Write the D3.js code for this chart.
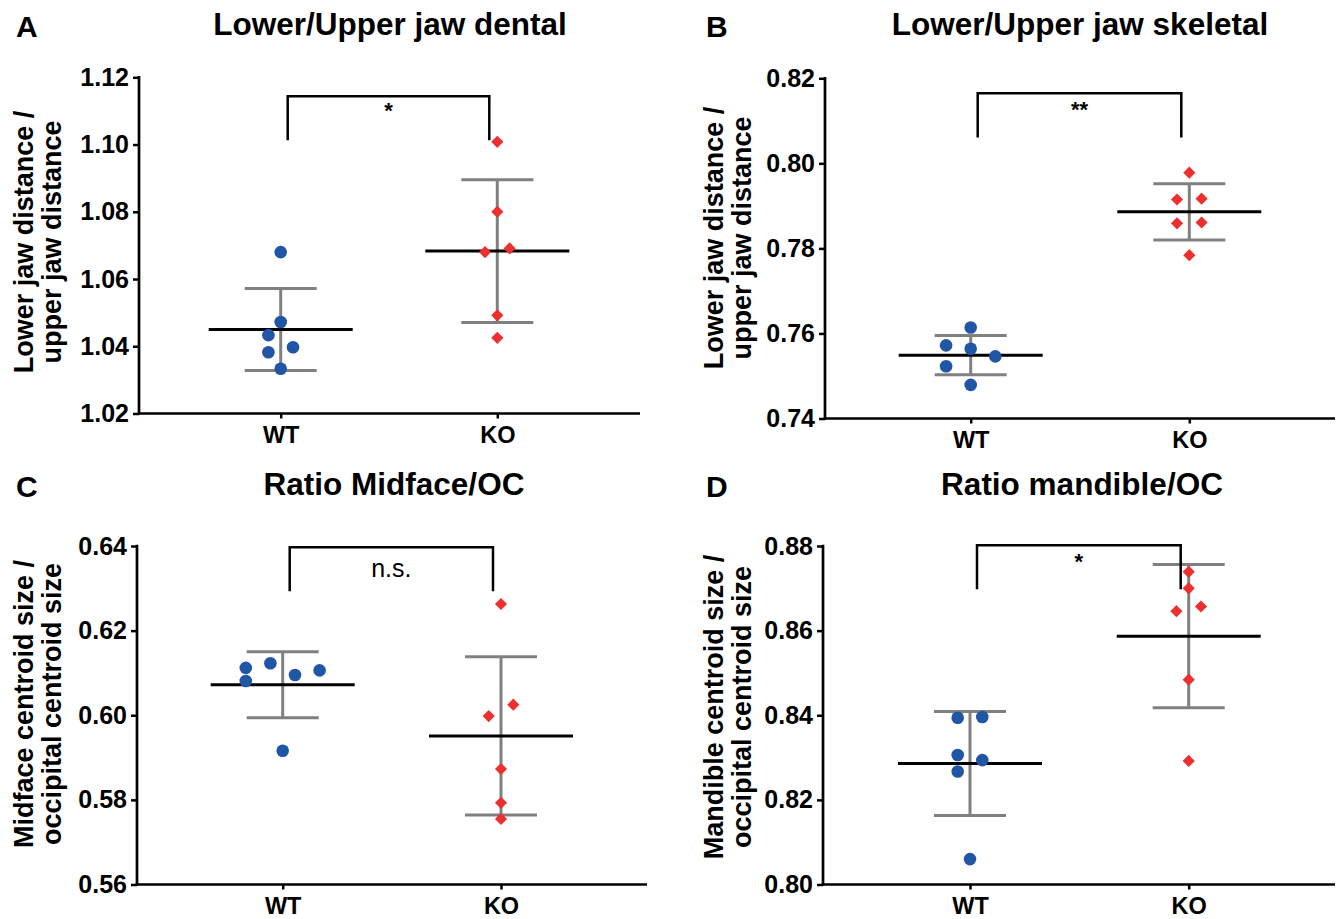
<!DOCTYPE html>
<html>
<head>
<meta charset="utf-8">
<script src="https://cdn.jsdelivr.net/npm/d3@7"></script>
<style>
  html, body { margin: 0; padding: 0; background: #fff; }
  svg { display: block; }
  text { font-family: "Liberation Sans", Arial, Helvetica, sans-serif; fill: #000; }
</style>
</head>
<body>
<svg id="chart" width="1340" height="919"></svg>
<script>
// ---------------- DATA ----------------
const groups = ["WT", "KO"];
const panelLetters = ["A", "B", "C", "D"];
const panelTitles = ["Lower/Upper jaw dental", "Lower/Upper jaw skeletal", "Ratio Midface/OC", "Ratio mandible/OC"];
const yLabelLines = [
  ["Lower jaw distance /", "upper jaw distance"],
  ["Lower jaw distance /", "upper jaw distance"],
  ["Midface centroid size /", "occipital centroid size"],
  ["Mandible centroid size /", "occipital centroid size"]
];
const yDomains = [[1.02, 1.12], [0.74, 0.82], [0.56, 0.64], [0.80, 0.88]];
const yTickValues = [
  [1.02, 1.04, 1.06, 1.08, 1.10, 1.12],
  [0.74, 0.76, 0.78, 0.80, 0.82],
  [0.56, 0.58, 0.60, 0.62, 0.64],
  [0.80, 0.82, 0.84, 0.86, 0.88]
];
// individual values per panel
const wtValues = [
  [1.0680, 1.0472, 1.0433, 1.0397, 1.0382, 1.0333],
  [0.7614, 0.7572, 0.7564, 0.7546, 0.7523, 0.7479],
  [0.6112, 0.6123, 0.6095, 0.6106, 0.6081, 0.5916],
  [0.8394, 0.8396, 0.8306, 0.8294, 0.8267, 0.8060]
];
const koValues = [
  [1.1008, 1.0800, 1.0691, 1.0680, 1.0492, 1.0425],
  [0.7978, 0.7915, 0.7917, 0.7859, 0.7861, 0.7784],
  [0.6263, 0.6025, 0.5998, 0.5873, 0.5793, 0.5755],
  [0.8739, 0.8700, 0.8657, 0.8646, 0.8484, 0.8292]
];
// scatter column slot of each point (dot-plot spreading)
const wtSlots = [
  [0, 0, -1, 1, -1, 0],
  [0, -2, 0, 2, -2, 0],
  [-3, -1, 1, 3, -3, 0],
  [-1, 1, -1, 1, -1, 0]
];
const koSlots = [
  [0, 0, 1, -1, 0, 0],
  [0, -1, 1, -1, 1, 0],
  [0, 1, -1, 0, 0, 0],
  [0, 0, 1, -1, 0, 0]
];
const wtMeans = [1.0450, 0.7549, 0.6072, 0.8286];
const wtSDs   = [0.0122, 0.0046, 0.0078, 0.0123];
const koMeans = [1.0683, 0.7886, 0.5951, 0.8587];
const koSDs   = [0.0212, 0.0066, 0.0187, 0.0169];
const sigLabels = ["*", "**", "n.s.", "*"];
const bracketTop = [1.1144, 0.8165, 0.6397, 0.8802];
const bracketBottom = [1.1013, 0.8061, 0.6293, 0.8698];

// ---------------- LAYOUT ----------------
const layout = [
  { x0: 139, x1: 640, yTop: 77.3, yBot: 413.5, wtX: 280.7, koX: 497.3, ox: 0,   oy: 0 },
  { x0: 825, x1: 1335, yTop: 78.3, yBot: 418.5, wtX: 970.7, koX: 1189.3, ox: 690, oy: 0 },
  { x0: 137, x1: 647, yTop: 546, yBot: 884.5, wtX: 282.7, koX: 501, ox: 0,   oy: 460 },
  { x0: 823, x1: 1335, yTop: 546, yBot: 884.5, wtX: 970, koX: 1188.7, ox: 690, oy: 460 }
];
const titleCenters = [390, 1080, 394, 1082];
const yLabelCenters = [242, 238, 704, 707];
const sigStyle = [
  { size: 22, weight: "bold", dy: 21.5 },
  { size: 22, weight: "bold", dy: 23.5 },
  { size: 25, weight: "normal", dy: 29.5 },
  { size: 22, weight: "bold", dy: 24 }
];

const BLUE = "#2155a6";
const RED = "#ed2f2f";
const GRAY = "#808080";
const SLOT = 12.3;

const svg = d3.select("#chart");

panelLetters.forEach((letter, i) => {
  const L = layout[i];
  const g = svg.append("g");

  const y = d3.scaleLinear().domain(yDomains[i]).range([L.yBot, L.yTop]);
  const x = d3.scalePoint().domain(groups).range([L.wtX, L.koX]).padding(0);

  // Panel letter
  g.append("text").attr("x", L.ox + 16).attr("y", L.oy + 37)
    .attr("font-size", 30).attr("font-weight", "bold").text(letter);

  // Title
  g.append("text").attr("x", titleCenters[i]).attr("y", L.oy + 35)
    .attr("text-anchor", "middle").attr("font-size", 31.5).attr("font-weight", "bold")
    .text(panelTitles[i]);

  // Y axis
  const yAxis = d3.axisLeft(y).tickValues(yTickValues[i]).tickFormat(d3.format(".2f"))
    .tickSize(6).tickSizeOuter(0).tickPadding(4);
  const yg = g.append("g").attr("transform", `translate(${L.x0},0)`).call(yAxis);
  yg.select(".domain").remove();
  yg.selectAll(".tick line").attr("stroke", "#000").attr("stroke-width", 2.5);
  yg.selectAll(".tick text").attr("font-size", 25).attr("font-weight", "bold")
    .attr("font-family", "Liberation Sans, Arial, sans-serif").attr("fill", "#000");

  // X axis
  const xAxis = d3.axisBottom(x).tickSize(5).tickSizeOuter(0).tickPadding(8);
  const xg = g.append("g").attr("transform", `translate(0,${L.yBot})`).call(xAxis);
  xg.select(".domain").remove();
  xg.selectAll(".tick line").attr("stroke", "#000").attr("stroke-width", 2.5);
  xg.selectAll(".tick text").attr("font-size", 23.5).attr("font-weight", "bold")
    .attr("font-family", "Liberation Sans, Arial, sans-serif").attr("fill", "#000")
    .attr("dy", "0.72em");

  // axis lines
  g.append("line").attr("x1", L.x0).attr("x2", L.x0).attr("y1", L.yTop - 1.2).attr("y2", L.yBot + 1.3)
    .attr("stroke", "#000").attr("stroke-width", 2.7);
  g.append("line").attr("x1", L.x0 - 1.3).attr("x2", L.x1).attr("y1", L.yBot).attr("y2", L.yBot)
    .attr("stroke", "#000").attr("stroke-width", 2.7);

  // Y label (two lines, rotated)
  const yl = g.append("text")
    .attr("transform", `translate(${L.ox + 33},${yLabelCenters[i]}) rotate(-90)`)
    .attr("text-anchor", "middle").attr("font-size", 27).attr("font-weight", "bold");
  yLabelLines[i].forEach((t, k) => {
    yl.append("tspan").attr("x", 0).attr("y", k * 27.5).text(t);
  });

  // Group stats: SD bars, means
  const stats = [
    { grp: "WT", mean: wtMeans[i], sd: wtSDs[i] },
    { grp: "KO", mean: koMeans[i], sd: koSDs[i] }
  ];
  stats.forEach(s => {
    const cx = x(s.grp);
    const yT = y(s.mean + s.sd), yB = y(s.mean - s.sd);
    g.append("line").attr("x1", cx).attr("x2", cx).attr("y1", yT).attr("y2", yB)
      .attr("stroke", GRAY).attr("stroke-width", 3);
    [yT, yB].forEach(yy => g.append("line").attr("x1", cx - 36).attr("x2", cx + 36)
      .attr("y1", yy).attr("y2", yy).attr("stroke", GRAY).attr("stroke-width", 3));
    g.append("line").attr("x1", cx - 72).attr("x2", cx + 72)
      .attr("y1", y(s.mean)).attr("y2", y(s.mean))
      .attr("stroke", "#000").attr("stroke-width", 3);
  });

  // points
  g.selectAll("circle.wt").data(wtValues[i].map((v, k) => ({ v, s: wtSlots[i][k] })))
    .enter().append("circle")
    .attr("cx", d => x("WT") + d.s * SLOT).attr("cy", d => y(d.v))
    .attr("r", 6.3).attr("fill", BLUE);

  const diamond = d3.symbol().type(d3.symbolSquare).size(74);
  g.selectAll("path.ko").data(koValues[i].map((v, k) => ({ v, s: koSlots[i][k] })))
    .enter().append("path")
    .attr("d", diamond)
    .attr("transform", d => `translate(${x("KO") + d.s * SLOT},${y(d.v)}) rotate(45)`)
    .attr("fill", RED);

  // significance bracket
  const bx1 = x("WT") + 7, bx2 = x("KO") - 8;
  const bt = y(bracketTop[i]), bb = y(bracketBottom[i]);
  g.append("path")
    .attr("d", `M${bx1},${bb} L${bx1},${bt} L${bx2},${bt} L${bx2},${bb}`)
    .attr("fill", "none").attr("stroke", "#000").attr("stroke-width", 2.5);
  g.append("text").attr("x", (bx1 + bx2) / 2).attr("y", bt + sigStyle[i].dy)
    .attr("text-anchor", "middle").attr("font-size", sigStyle[i].size)
    .attr("font-weight", sigStyle[i].weight).text(sigLabels[i]);
});
</script>
</body>
</html>
